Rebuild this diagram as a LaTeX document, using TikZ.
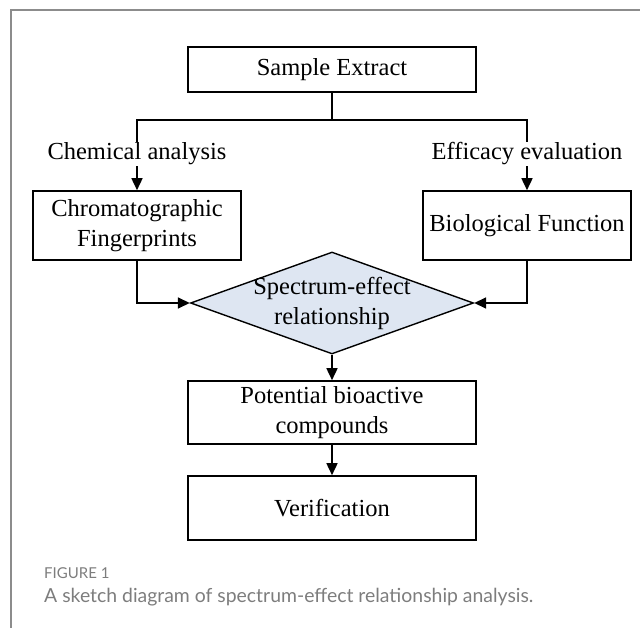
\documentclass[tikz,border=0pt]{standalone}
\usepackage{fontspec}
\setmainfont{Liberation Serif}
\setsansfont{Lato}
\usetikzlibrary{arrows.meta,shapes.geometric}

\begin{document}
\begin{tikzpicture}[x=1pt, y=-1pt,
    box/.style={draw, line width=1.6pt, inner sep=0pt, align=center,
        font=\fontsize{24.5}{30}\selectfont},
    txt/.style={inner sep=1pt, align=center, font=\fontsize{24.5}{30}\selectfont},
    decision/.style={diamond, draw, line width=1.4pt, inner sep=0pt,
        minimum width=283pt, minimum height=102pt, fill=relfill},
    link/.style={line width=1.6pt},
    arr/.style={link, -{Triangle[length=12pt, width=11pt]}}]
    \definecolor{relfill}{RGB}{222,230,242}
    \definecolor{framegray}{RGB}{140,140,140}
    \definecolor{capgray}{RGB}{125,125,125}
    \useasboundingbox (0,0) rectangle (640,628);

    % 外框
    \draw[framegray, line width=2pt] (11,628) -- (11,10) -- (640,10);

    % 方框
    \node[box, minimum width=288pt, minimum height=45pt] (sample) at (332,69.5) {Sample Extract};
    \node[txt] (chem) at (137,154) {Chemical analysis};
    \node[txt] (eff) at (527,154) {Efficacy evaluation};
    \node[box, minimum width=208pt, minimum height=69pt] (chrom) at (137,225.5) {Chromatographic\\Fingerprints};
    \node[box, minimum width=208pt, minimum height=69pt] (bio) at (527,225.5) {Biological Function};
    \node[decision] (rel) at (332,303) {};
    \node[txt] (reltxt) at (rel.center) {Spectrum-effect\\relationship};
    \node[box, minimum width=288pt, minimum height=63pt] (pot) at (332,412.5) {Potential bioactive\\compounds};
    \node[box, minimum width=288pt, minimum height=64pt] (ver) at (332,508) {Verification};

    % 连线
    \draw[link] (sample.south) -- ++(0,27) coordinate (split);
    \draw[link] (chem.north) |- (split) -| (eff.north);
    \draw[arr] (chem.south) -- (chrom.north);
    \draw[arr] (eff.south) -- (bio.north);
    \draw[arr] (chrom.south) |- (rel.west);
    \draw[arr] (bio.south) |- (rel.east);
    \draw[arr] (rel.south) -- (pot.north);
    \draw[arr] (pot.south) -- (ver.north);

    % 图注
    \node[anchor=west, inner sep=0pt, text=capgray, font=\sffamily\fontsize{15}{18}\selectfont] (fig) at (44,573) {FIGURE 1};
    \node[anchor=west, inner sep=0pt, text=capgray, font=\sffamily\fontsize{19.4}{23}\selectfont] (cap) at (44,597) {A sketch diagram of spectrum-effect relationship analysis.};
\end{tikzpicture}
\end{document}
